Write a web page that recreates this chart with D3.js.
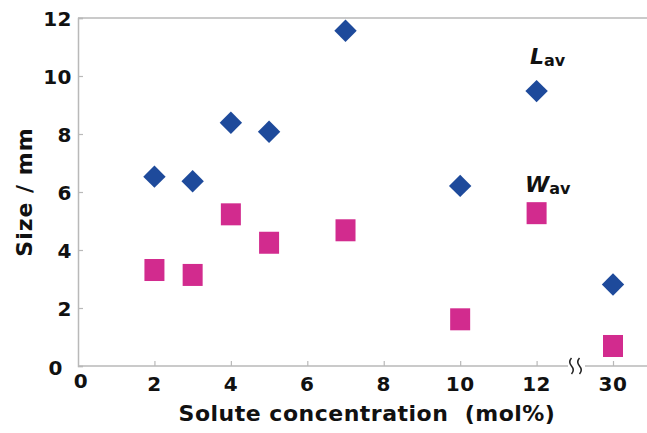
<!DOCTYPE html>
<html>
<head>
<meta charset="utf-8">
<script src="https://cdn.jsdelivr.net/npm/d3@7/dist/d3.min.js"></script>
<style>
  html, body { margin: 0; padding: 0; background: #fff; }
  svg { display: block; }
  text { font-family: "DejaVu Sans", Verdana, sans-serif; font-weight: bold; fill: #111; }
</style>
</head>
<body>
<svg id="chart" width="647" height="433"></svg>
<script>
// ---- data ----
const concentrations = [2, 3, 4, 5, 7, 10, 12, 30];
const lavValues = [6.53, 6.37, 8.39, 8.08, 11.56, 6.21, 9.48, 2.81];
const wavValues = [3.31, 3.14, 5.23, 4.25, 4.68, 1.61, 5.27, 0.69];
const xTickValues = [0, 2, 4, 6, 8, 10, 12, 30];
const yTickValues = [0, 2, 4, 6, 8, 10, 12];

(function () {
const svg = d3.select("#chart");
const mLeft = 78, mTop = 18, mBottom = 366, mRight = 647;

// broken x axis: 0..12 linear, 30 placed after the break
const x = d3.scaleLinear().domain([0, 12, 30, 31.6]).range([mLeft, 536.6, 613, mRight]);
const y = d3.scaleLinear().domain([0, 12]).range([mBottom, mTop]);

const axisColor = "#b9b9b9";

// top frame line
svg.append("line").attr("x1", mLeft).attr("x2", mRight).attr("y1", mTop).attr("y2", mTop)
  .attr("stroke", axisColor).attr("stroke-width", 1.5);

// y axis
const yAxis = svg.append("g").attr("transform", `translate(${mLeft},0)`)
  .call(d3.axisRight(y).tickValues(yTickValues).tickSize(5).tickFormat(""));
yAxis.select(".domain").attr("stroke", axisColor).attr("stroke-width", 1.5);
yAxis.selectAll(".tick line").attr("stroke", axisColor).attr("stroke-width", 1.2);

svg.append("g").selectAll("text").data(yTickValues).join("text")
  .attr("x", d => d === 0 ? 63 : 72)
  .attr("y", d => y(d) + (d === 0 ? 9 : 7.5))
  .attr("text-anchor", "end")
  .attr("font-size", 20)
  .attr("letter-spacing", 0.5)
  .text(d => d);

// x axis (with break gap)
const xAxis = svg.append("g").attr("transform", `translate(0,${mBottom})`)
  .call(d3.axisTop(x).tickValues(xTickValues.filter(d => d !== 0)).tickSize(5).tickFormat("").tickSizeOuter(0));
xAxis.select(".domain").remove();
xAxis.selectAll(".tick line").attr("stroke", axisColor).attr("stroke-width", 1.2);
svg.append("line").attr("x1", mLeft).attr("x2", 568).attr("y1", mBottom).attr("y2", mBottom)
  .attr("stroke", axisColor).attr("stroke-width", 1.5);
svg.append("line").attr("x1", 585).attr("x2", mRight).attr("y1", mBottom).attr("y2", mBottom)
  .attr("stroke", axisColor).attr("stroke-width", 1.5);

// break squiggles
[571.5, 579.5].forEach(cx => {
  svg.append("path")
    .attr("d", `M${cx},${mBottom - 8} q-3.5,4 0,8 q3.5,4 0,8`)
    .attr("fill", "none").attr("stroke", "#222").attr("stroke-width", 1.5);
});

svg.append("g").selectAll("text").data(xTickValues).join("text")
  .attr("x", d => x(d) + (d === 0 ? 3 : 0))
  .attr("y", d => d === 0 ? 388 : 391)
  .attr("text-anchor", "middle")
  .attr("font-size", 20)
  .attr("letter-spacing", 0.5)
  .text(d => d);

// axis titles
svg.append("text").attr("x", 367).attr("y", 421).attr("text-anchor", "middle")
  .attr("font-size", 22).attr("letter-spacing", 0.5).attr("xml:space", "preserve")
  .text("Solute concentration  (mol%)");
svg.append("text").attr("transform", "translate(32,192) rotate(-90)")
  .attr("text-anchor", "middle").attr("font-size", 22).attr("letter-spacing", 1)
  .text("Size / mm");

// markers
const pts = concentrations.map((c, i) => ({c, l: lavValues[i], w: wavValues[i]}));
const dSize = 11.2;
svg.append("g").selectAll("path").data(pts).join("path")
  .attr("transform", d => `translate(${x(d.c)},${y(d.l)})`)
  .attr("d", `M0,${-dSize} L${dSize},0 L0,${dSize} L${-dSize},0 Z`)
  .attr("fill", "#1e4a9b");
svg.append("g").selectAll("rect").data(pts).join("rect")
  .attr("x", d => x(d.c) - 10).attr("y", d => y(d.w) - 11)
  .attr("width", 20).attr("height", 22)
  .attr("fill", "#d22b8e");

// series labels
const lab = (xx, yy, big) => {
  const t = svg.append("text").attr("x", xx).attr("y", yy);
  t.append("tspan").attr("font-size", 22).attr("font-style", "italic").text(big);
  t.append("tspan").attr("font-size", 16).attr("dy", 2).text("av");
};
lab(530, 64, "L");
lab(525, 192, "W");
})();
</script>
</body>
</html>
